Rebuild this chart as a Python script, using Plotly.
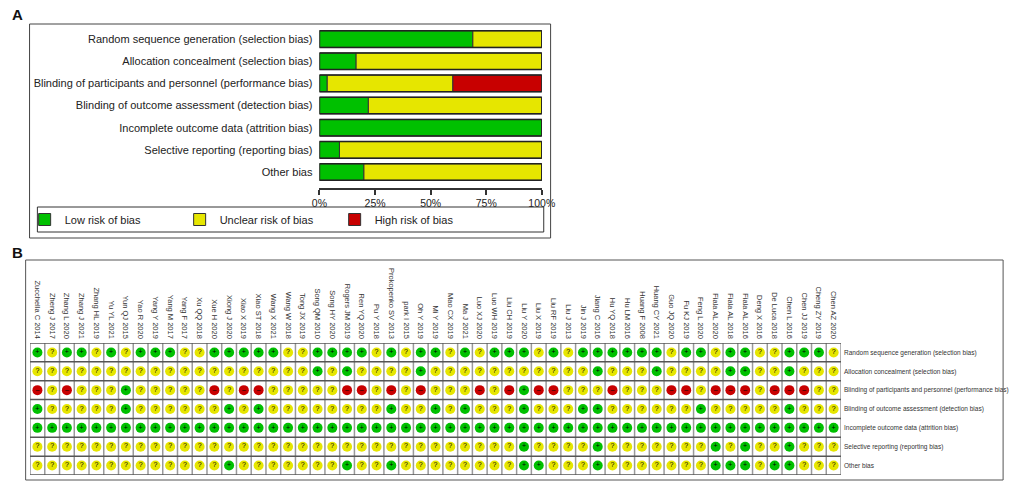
import plotly.graph_objects as go

W, H = 1021, 484

# ---------------- data ----------------
domains = [
    "Random sequence generation (selection bias)",
    "Allocation concealment (selection bias)",
    "Blinding of participants and personnel (performance bias)",
    "Blinding of outcome assessment (detection bias)",
    "Incomplete outcome data (attrition bias)",
    "Selective reporting (reporting bias)",
    "Other bias",
]
# Panel A: percentage of studies per judgement
low_pct = [69, 16.5, 3.5, 22, 100, 9, 20]
unclear_pct = [31, 83.5, 56.5, 78, 0, 91, 80]
high_pct = [0, 0, 40, 0, 0, 0, 0]
pct_ticks = [0, 25, 50, 75, 100]
pct_labels = ["0%", "25%", "50%", "75%", "100%"]
risk_names = ["Low risk of bias", "Unclear risk of bias", "High risk of bias"]

# Panel B: studies and judgements ('+' low, '?' unclear, '-' high)
studies = [
    "Zucchella C 2014", "Zheng J 2017", "Zhang L 2020", "Zhang J 2021", "Zhang HL 2019",
    "Yu YL 2021", "Yun QJ 2015", "Yao R 2020", "Yang Y 2019", "Yang M 2017",
    "Yang F 2017", "Xu QQ 2018", "Xue H 2020", "Xiong J 2020", "Xiao X 2019",
    "Xiao ST 2018", "Wang X 2021", "Wang W 2018", "Tong JX 2019", "Song QM 2010",
    "Song HY 2020", "Rogers JM 2019", "Ren YQ 2020", "Pu Y 2018", "Prokopenko SV 2013",
    "park I 2015", "Oh Y 2019", "Mi Y 2019", "Mao CX 2019", "Ma J 2021",
    "Luo XJ 2020", "Luo WH 2019", "Liu CH 2019", "Liu Y 2020", "Liu X 2019",
    "Liu RF 2019", "Liu J 2013", "Jin J 2019", "Jiang C 2016", "Hu YQ 2018",
    "Hu LM 2016", "Huang F 2008", "Huang CY 2021", "Guo JQ 2020", "Fu KJ 2019",
    "Feng L 2020", "Fiala AL 2020", "Fiala AL 2018", "Fiala AL 2016", "Deng X 2016",
    "De Luca 2018", "Chen L 2016", "Chen JJ 2019", "Cheng ZY 2019", "Chen AZ 2020",
]
random_seq = "+?++?+?+++??+++++?" + "?++++?+?++?+?+++?+" + "?++++++?++?++??+++?"
allocation = "??????????????????" + "?+?+????+?????????" + "??+???+????++??+???"
blinding_pp = "-?-???+?????-?--??" + "???--?-?-???-?-+--" + "???-???--?---?---??"
blinding_oa = "+?????+??????+?+??" + "??????+??+?+???+??" + "?++??????+?????+???"
incomplete = "++++++++++++++++++" + "++++++++++++++++++" + "+++++++++++++++++++"
selective = "??????????????????" + "???????????????+??" + "??+???????+?+??+???"
other = "?????????????+????" + "???+??+????????++?" + "??+???????+++?++???"
judgements = [random_seq, allocation, blinding_pp, blinding_oa, incomplete, selective, other]

# ---------------- styles ----------------
FONT = 'Arial, "Liberation Sans", sans-serif'
colors = {"+": "#00C000", "?": "#E6E600", "-": "#C80000"}
glyph = {"+": "+", "?": "?", "-": "\u2013"}


def px(x):
    return x / W


def py(y):
    return 1 - y / H


fig = go.Figure()

# ---------------- panel A ----------------
base_unclear = list(low_pct)
base_high = [l + u for l, u in zip(low_pct, unclear_pct)]
totals = [l + u + h for l, u, h in zip(low_pct, unclear_pct, high_pct)]
for name, vals, base, code in [
    (risk_names[0], low_pct, [0] * len(low_pct), "+"),
    (risk_names[1], unclear_pct, base_unclear, "?"),
    (risk_names[2], high_pct, base_high, "-"),
]:
    fig.add_trace(go.Bar(
        y=domains, x=vals, base=base, orientation="h", name=name,
        marker=dict(color=colors[code], line=dict(color="#333333", width=1)),
        xaxis="x", yaxis="y", hoverinfo="skip",
    ))
fig.add_trace(go.Bar(
    y=domains, x=totals, base=[0] * len(totals), orientation="h",
    marker=dict(color="rgba(0,0,0,0)", line=dict(color="#222222", width=1.5)),
    showlegend=False, xaxis="x", yaxis="y", hoverinfo="skip",
))

# ---------------- panel B ----------------
for code in ["+", "?", "-"]:
    xs, ys = [], []
    for d, row in zip(domains, judgements):
        for s, v in zip(studies, row):
            if v == code:
                xs.append(s)
                ys.append(d)
    fig.add_trace(go.Scatter(
        x=xs, y=ys, mode="markers+text", xaxis="x2", yaxis="y2",
        marker=dict(size=10, color=colors[code], line=dict(width=0)),
        text=[glyph[code]] * len(xs), textposition="middle center",
        textfont=dict(size=7, color="#000000", family=FONT),
        showlegend=False, hoverinfo="skip", cliponaxis=False,
    ))

n_s, n_d = len(studies), len(domains)
shapes = []
# grid of panel B
for i in range(n_s + 1):
    shapes.append(dict(type="line", xref="x2", yref="y2", x0=i - 0.5, x1=i - 0.5,
                       y0=-0.5, y1=n_d - 0.5, line=dict(color="#9a9a9a", width=1.5), layer="below"))
for j in range(n_d + 1):
    shapes.append(dict(type="line", xref="x2", yref="y2", x0=-0.5, x1=n_s - 0.5,
                       y0=j - 0.5, y1=j - 0.5, line=dict(color="#555555", width=1.5), layer="below"))
# frames
shapes.append(dict(type="rect", xref="paper", yref="paper", x0=px(22), x1=px(554), y0=py(238), y1=py(24),
                   line=dict(color="#444444", width=1)))
shapes.append(dict(type="rect", xref="paper", yref="paper", x0=px(30), x1=px(547), y0=py(232), y1=py(207),
                   line=dict(color="#333333", width=1)))
shapes.append(dict(type="rect", xref="paper", yref="paper", x0=px(18), x1=px(1016), y0=py(480), y1=py(260),
                   line=dict(color="#555555", width=1)))

annotations = [
    dict(text="<b>A</b>", x=px(10), y=py(15), xref="paper", yref="paper", showarrow=False,
         font=dict(size=15, color="#111111", family=FONT), xanchor="center", yanchor="middle"),
    dict(text="<b>B</b>", x=px(10), y=py(252), xref="paper", yref="paper", showarrow=False,
         font=dict(size=15, color="#111111", family=FONT), xanchor="center", yanchor="middle"),
]

fig.update_layout(
    width=W, height=H, margin=dict(l=0, r=0, t=0, b=0),
    paper_bgcolor="white", plot_bgcolor="white",
    font=dict(family=FONT, color="#222222"),
    barmode="overlay", bargap=0.25,
    shapes=shapes, annotations=annotations,
    legend=dict(orientation="h", x=px(17), y=py(219.5), xanchor="left", yanchor="middle",
                entrywidth=110, entrywidthmode="pixels", font=dict(size=11, color="#222222"),
                bgcolor="rgba(0,0,0,0)", traceorder="normal"),
    xaxis=dict(domain=[px(318), px(545)], range=[0, 100], anchor="y",
               tickvals=pct_ticks, ticktext=pct_labels, tickfont=dict(size=10.5, color="#222222"),
               showline=True, linecolor="#333333", linewidth=1.5, ticks="outside", ticklen=5,
               tickwidth=1.5, tickcolor="#333333", showgrid=False, zeroline=False),
    yaxis=dict(domain=[py(188), py(28)], anchor="x", type="category",
               categoryorder="array", categoryarray=domains, range=[6.72, -0.5],
               tickfont=dict(size=11, color="#222222"), ticks="", ticklabelstandoff=6,
               showgrid=False, zeroline=False, showline=False),
    xaxis2=dict(domain=[px(22.5), px(850.5)], anchor="y2", side="top", type="category",
                categoryorder="array", categoryarray=studies, range=[-0.5, n_s - 0.5],
                tickangle=90, tickfont=dict(size=7.5, color="#333333"), ticks="",
                ticklabelstandoff=2, showgrid=False, zeroline=False, showline=False),
    yaxis2=dict(domain=[py(475), py(343)], anchor="x2", side="right", type="category",
                categoryorder="array", categoryarray=domains, range=[n_d - 0.5, -0.5],
                tickfont=dict(size=6.5, color="#333333"), ticks="", ticklabelstandoff=2,
                showgrid=False, zeroline=False, showline=False),
)

fig.write_html(
    "out.html",
    config={"displayModeBar": False},
    post_script="document.body.style.margin='0';document.body.style.padding='0';"
                "document.documentElement.style.overflow='hidden';",
)
